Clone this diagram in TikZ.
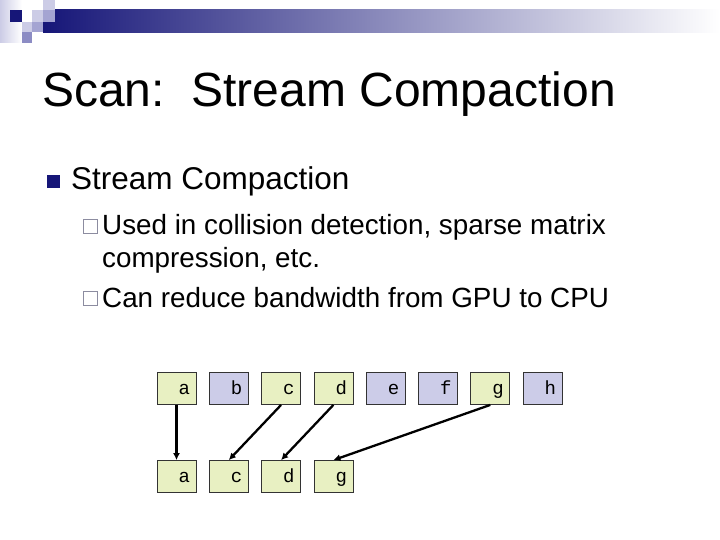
\documentclass[tikz,border=0pt]{standalone}
\usepackage{fontspec}
\setmainfont{Liberation Sans}
\newfontfamily\monof{Liberation Mono}
\usetikzlibrary{arrows.meta}
\definecolor{navyA}{RGB}{22,22,120}
\definecolor{barMid}{RGB}{170,170,192}
\definecolor{lavL}{RGB}{204,204,230}
\definecolor{lavM}{RGB}{164,164,210}
\definecolor{lavD}{RGB}{140,140,196}
\definecolor{boxG}{RGB}{232,240,194}
\definecolor{boxP}{RGB}{204,204,232}
\definecolor{bulGray}{RGB}{140,140,160}
\tikzset{
  cell/.style={draw=black!80, line width=0.8pt, minimum width=39pt, minimum height=32pt,
    inner xsep=0pt, inner ysep=0pt, text width=27pt, align=right, text height=11pt, text depth=0pt,
    font=\fontsize{19}{19}\selectfont\monof},
  keep/.style={cell, fill=boxG},
  drop/.style={cell, fill=boxP},
  mv/.style={line width=2.3pt, -{Latex[length=7pt,width=7pt]}},
  txt/.style={anchor=base west, inner sep=0pt}
}
\begin{document}
\begin{tikzpicture}[x=1pt,y=-1pt]
\useasboundingbox (0,0) rectangle (720,540);
\fill[white] (0,0) rectangle (720,540);
% header decoration
\shade[left color=lavL, right color=white] (0,0) rectangle (22,43);
\shade[left color=navyA, middle color=barMid, right color=white] (43,10) rectangle (720,33);
\fill[navyA] (10,10) rectangle (22,22);
\fill[lavL] (32,10) rectangle (43,22);
\fill[lavL] (43,0) rectangle (55,10);
\fill[lavM] (43,10) rectangle (55,22);
\fill[lavL] (22,22) rectangle (32,32);
\fill[lavM] (32,22) rectangle (43,32);
\fill[lavD] (22,32) rectangle (32,43);
% title
\node[txt, font=\fontsize{48}{48}\selectfont] (title) at (42,107) {Scan:\ \ Stream Compaction};
% bullets
\fill[navyA] (47,175) rectangle (60,188);
\node[txt, font=\fontsize{31.5}{31.5}\selectfont] (l1) at (71,190) {Stream Compaction};
\draw[bulGray, line width=1pt] (83.5,219.5) rectangle (97,233);
\node[txt, font=\fontsize{27.8}{27.8}\selectfont] (l2a) at (102,235) {Used in collision detection, sparse matrix};
\node[txt, font=\fontsize{27.8}{27.8}\selectfont] (l2b) at (102,267) {compression, etc.};
\draw[bulGray, line width=1pt] (83.5,291.5) rectangle (97,305);
\node[txt, font=\fontsize{27.8}{27.8}\selectfont] (l2c) at (102,307) {Can reduce bandwidth from GPU to CPU};
% top row
\node[keep] (ta) at (176.5,388.5) {a};
\node[drop] (tb) at (228.8,388.5) {b};
\node[keep] (tc) at (281.1,388.5) {c};
\node[keep] (td) at (333.4,388.5) {d};
\node[drop] (te) at (385.7,388.5) {e};
\node[drop] (tf) at (438.0,388.5) {f};
\node[keep] (tg) at (490.3,388.5) {g};
\node[drop] (th) at (542.6,388.5) {h};
% bottom row
\node[keep] (ba) at (176.5,476.5) {a};
\node[keep] (bc) at (228.8,476.5) {c};
\node[keep] (bd) at (281.1,476.5) {d};
\node[keep] (bg) at (333.4,476.5) {g};
% arrows
\draw[mv] (ta.south) -- (ba.north);
\draw[mv] (tc.south) -- (bc.north);
\draw[mv] (td.south) -- (bd.north);
\draw[mv] (tg.south) -- (bg.north);
\end{tikzpicture}
\end{document}
